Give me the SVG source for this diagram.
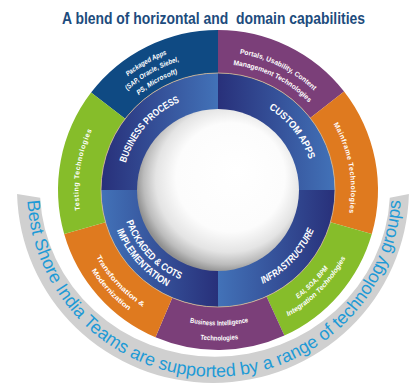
<svg xmlns="http://www.w3.org/2000/svg" width="411" height="383" viewBox="0 0 411 383">
<defs>
<style>
.title{font-family:"Liberation Sans",Arial,sans-serif;font-weight:bold;font-size:16px;fill:#1d4c7d}
.band{font-family:"Liberation Sans",Arial,sans-serif;font-size:18px;fill:#1e9ad6}
.core{font-family:"Liberation Sans",Arial,sans-serif;font-weight:bold;font-size:10px;fill:#ffffff}
.lbl{font-family:"Liberation Sans",Arial,sans-serif;font-weight:bold;font-size:7px;fill:#ffffff}
.it{font-style:italic}
.blue{fill:#0f4a83}.purple{fill:#7b3f79}.orange{fill:#df7a1f}.green{fill:#86bd2a}
</style>
<linearGradient id="gTL" gradientUnits="userSpaceOnUse" x1="101" y1="0" x2="218" y2="0"><stop offset="0" stop-color="#28307a"/><stop offset="1" stop-color="#4272b8"/></linearGradient>
<linearGradient id="gTR" gradientUnits="userSpaceOnUse" x1="218" y1="0" x2="335" y2="0"><stop offset="0" stop-color="#28307a"/><stop offset="1" stop-color="#4272b8"/></linearGradient>
<linearGradient id="gBR" gradientUnits="userSpaceOnUse" x1="218" y1="0" x2="335" y2="0"><stop offset="0" stop-color="#4272b8"/><stop offset="1" stop-color="#28307a"/></linearGradient>
<linearGradient id="gBL" gradientUnits="userSpaceOnUse" x1="101" y1="0" x2="218" y2="0"><stop offset="0" stop-color="#4272b8"/><stop offset="1" stop-color="#28307a"/></linearGradient>
<radialGradient id="sphere" cx="0.55" cy="0.45" r="0.56" fx="0.62" fy="0.38"><stop offset="0" stop-color="#ffffff"/><stop offset="0.6" stop-color="#fcfcfc"/><stop offset="0.8" stop-color="#e4e4e4"/><stop offset="0.92" stop-color="#bcbcbc"/><stop offset="1" stop-color="#909090"/></radialGradient>
<path id="pBand" d="M 27.26 199.79 A 187 187 0 0 0 400.74 199.79"/>
<path id="pBP" d="M 122.03 187.65 A 96 96 0 0 1 203.64 95.08"/>
<path id="pCA" d="M 237.47 96.0 A 96 96 0 0 1 313.96 192.85"/>
<path id="pPK1" d="M 121.13 195.08 A 97 97 0 0 0 206.18 286.28"/>
<path id="pPK2" d="M 109.07 193.8 A 109 109 0 0 0 202.83 297.94"/>
<path id="pIN" d="M 229.77 293.33 A 104 104 0 0 0 321.81 196.35"/>
<path id="pB1" d="M 82.18 139.22 A 145 145 0 0 1 244.42 47.43"/>
<path id="pB2" d="M 92.02 142.9 A 134.5 134.5 0 0 1 242.51 57.75"/>
<path id="pB3" d="M 102.32 146.75 A 123.5 123.5 0 0 1 240.51 68.57"/>
<path id="pP1" d="M 185.78 55.81 A 138 138 0 0 1 344.55 134.97"/>
<path id="pP2" d="M 188.59 67.48 A 126 126 0 0 1 333.55 139.76"/>
<path id="pM" d="M 303.64 88.24 A 133 133 0 0 1 333.06 256.7"/>
<path id="pE1" d="M 230.94 324.38 A 135 135 0 0 0 352.58 200.59"/>
<path id="pE2" d="M 231.85 333.84 A 144.5 144.5 0 0 0 362.06 201.34"/>
<path id="pBI1" d="M 131.81 294.55 A 135.5 135.5 0 0 0 306.0 293.04"/>
<path id="pBI2" d="M 122.27 306.13 A 150.5 150.5 0 0 0 315.74 304.44"/>
<path id="pT1" d="M 79.19 197.28 A 139 139 0 0 0 201.06 327.96"/>
<path id="pT2" d="M 68.21 197.85 A 150 150 0 0 0 199.72 338.88"/>
<path id="pTest" d="M 99.06 262.89 A 139.5 139.5 0 0 1 125.56 85.52"/>
</defs>

<text id="title" class="title" x="213.5" y="24" text-anchor="middle" textLength="303" lengthAdjust="spacingAndGlyphs" xml:space="preserve">A blend of horizontal and  domain capabilities</text>

<g id="band">
<path d="M 17.07 194.1 A 196 194 0 0 0 408.93 194.1 L 389.8 197.7 A 175 167 0 0 1 40.2 197.7 Z" fill="#d0d0d0"/>
<text class="band"><textPath href="#pBand" startOffset="50%" text-anchor="middle" textLength="566" lengthAdjust="spacingAndGlyphs">Best Shore India Teams are supported by a range of technology groups</textPath></text>
</g>

<g id="packaged-apps">
<path class="blue" d="M 218 30 A 160 160 0 0 0 91.06 92.59 L 125.17 118.77 A 117 117 0 0 1 218 73 Z"/>
<text class="lbl it"><textPath href="#pB1" startOffset="50%" text-anchor="middle" textLength="45" lengthAdjust="spacingAndGlyphs">Packaged Apps</textPath></text>
<text class="lbl it"><textPath href="#pB2" startOffset="50%" text-anchor="middle" textLength="60" lengthAdjust="spacingAndGlyphs">(SAP, Oracle, Siebel,</textPath></text>
<text class="lbl it"><textPath href="#pB3" startOffset="50%" text-anchor="middle" textLength="45" lengthAdjust="spacingAndGlyphs">PS, Microsoft)</textPath></text>
</g>

<g id="portals">
<path class="purple" d="M 344.08 91.49 A 160 160 0 0 0 218 30 L 218 73 A 117 117 0 0 1 310.2 117.96 Z"/>
<text class="lbl"><textPath href="#pP1" startOffset="50%" text-anchor="middle" textLength="84" lengthAdjust="spacingAndGlyphs">Portals, Usability, Content</textPath></text>
<text class="lbl"><textPath href="#pP2" startOffset="50%" text-anchor="middle" textLength="86" lengthAdjust="spacingAndGlyphs">Management Technologies</textPath></text>
</g>

<g id="mainframe">
<path class="orange" d="M 371.81 234.1 A 160 160 0 0 0 344.08 91.49 L 310.2 117.96 A 117 117 0 0 1 330.47 222.25 Z"/>
<text class="lbl"><textPath href="#pM" startOffset="50%" text-anchor="middle" textLength="92" lengthAdjust="spacing">Mainframe Technologies</textPath></text>
</g>

<g id="eai">
<path class="green" d="M 284.35 335.6 A 160 160 0 0 0 371.81 234.1 L 330.47 222.25 A 117 117 0 0 1 266.52 296.47 Z"/>
<text class="lbl it"><textPath href="#pE1" startOffset="50%" text-anchor="middle" textLength="43" lengthAdjust="spacingAndGlyphs">EAI, SOA, BPM</textPath></text>
<text class="lbl it"><textPath href="#pE2" startOffset="50%" text-anchor="middle" textLength="83" lengthAdjust="spacingAndGlyphs">Integration Technologies</textPath></text>
</g>

<g id="bi">
<path class="purple" d="M 155.49 337.28 A 160 160 0 0 0 284.35 335.6 L 266.52 296.47 A 117 117 0 0 1 172.29 297.7 Z"/>
<text class="lbl"><textPath href="#pBI1" startOffset="50%" text-anchor="middle" textLength="59" lengthAdjust="spacingAndGlyphs">Business Intelligence</textPath></text>
<text class="lbl"><textPath href="#pBI2" startOffset="50%" text-anchor="middle" textLength="38" lengthAdjust="spacingAndGlyphs">Technologies</textPath></text>
</g>

<g id="transformation">
<path class="orange" d="M 64.19 234.1 A 160 160 0 0 0 155.49 337.28 L 172.29 297.7 A 117 117 0 0 1 105.53 222.25 Z"/>
<text class="lbl"><textPath href="#pT1" startOffset="50%" text-anchor="middle" textLength="69" lengthAdjust="spacingAndGlyphs">Transformation &amp;</textPath></text>
<text class="lbl"><textPath href="#pT2" startOffset="50%" text-anchor="middle" textLength="55" lengthAdjust="spacingAndGlyphs">Modernization</textPath></text>
</g>

<g id="testing">
<path class="green" d="M 91.06 92.59 A 160 160 0 0 0 64.19 234.1 L 105.53 222.25 A 117 117 0 0 1 125.17 118.77 Z"/>
<text class="lbl"><textPath href="#pTest" startOffset="50%" text-anchor="middle" textLength="82" lengthAdjust="spacing">Testing Technologies</textPath></text>
</g>

<g id="business-process">
<path fill="url(#gTL)" d="M 218 190 L 101 190 A 117 117 0 0 1 218 73 Z"/>
<text class="core"><textPath href="#pBP" startOffset="50%" text-anchor="middle" textLength="84" lengthAdjust="spacingAndGlyphs">BUSINESS PROCESS</textPath></text>
</g>
<g id="custom-apps">
<path fill="url(#gTR)" d="M 218 190 L 218 73 A 117 117 0 0 1 335 190 Z"/>
<text class="core"><textPath href="#pCA" startOffset="50%" text-anchor="middle" textLength="66" lengthAdjust="spacingAndGlyphs">CUSTOM APPS</textPath></text>
</g>
<g id="infrastructure">
<path fill="url(#gBR)" d="M 218 190 L 335 190 A 117 117 0 0 1 218 307 Z"/>
<text class="core it"><textPath href="#pIN" startOffset="50%" text-anchor="middle" textLength="76" lengthAdjust="spacingAndGlyphs">INFRASTRUCTURE</textPath></text>
</g>
<g id="packaged-cots">
<path fill="url(#gBL)" d="M 218 190 L 218 307 A 117 117 0 0 1 101 190 Z"/>
<text class="core"><textPath href="#pPK1" startOffset="50%" text-anchor="middle" textLength="81" lengthAdjust="spacingAndGlyphs">PACKAGED &amp; COTS</textPath></text>
<text class="core"><textPath href="#pPK2" startOffset="50%" text-anchor="middle" textLength="77" lengthAdjust="spacingAndGlyphs">IMPLEMENTATION</textPath></text>
</g>

<circle cx="218" cy="190" r="117" fill="none" stroke="#d8b98f" stroke-width="0.8"/>
<circle id="center" cx="218" cy="190" r="81" fill="url(#sphere)"/>
<g id="connectors"/>
</svg>
